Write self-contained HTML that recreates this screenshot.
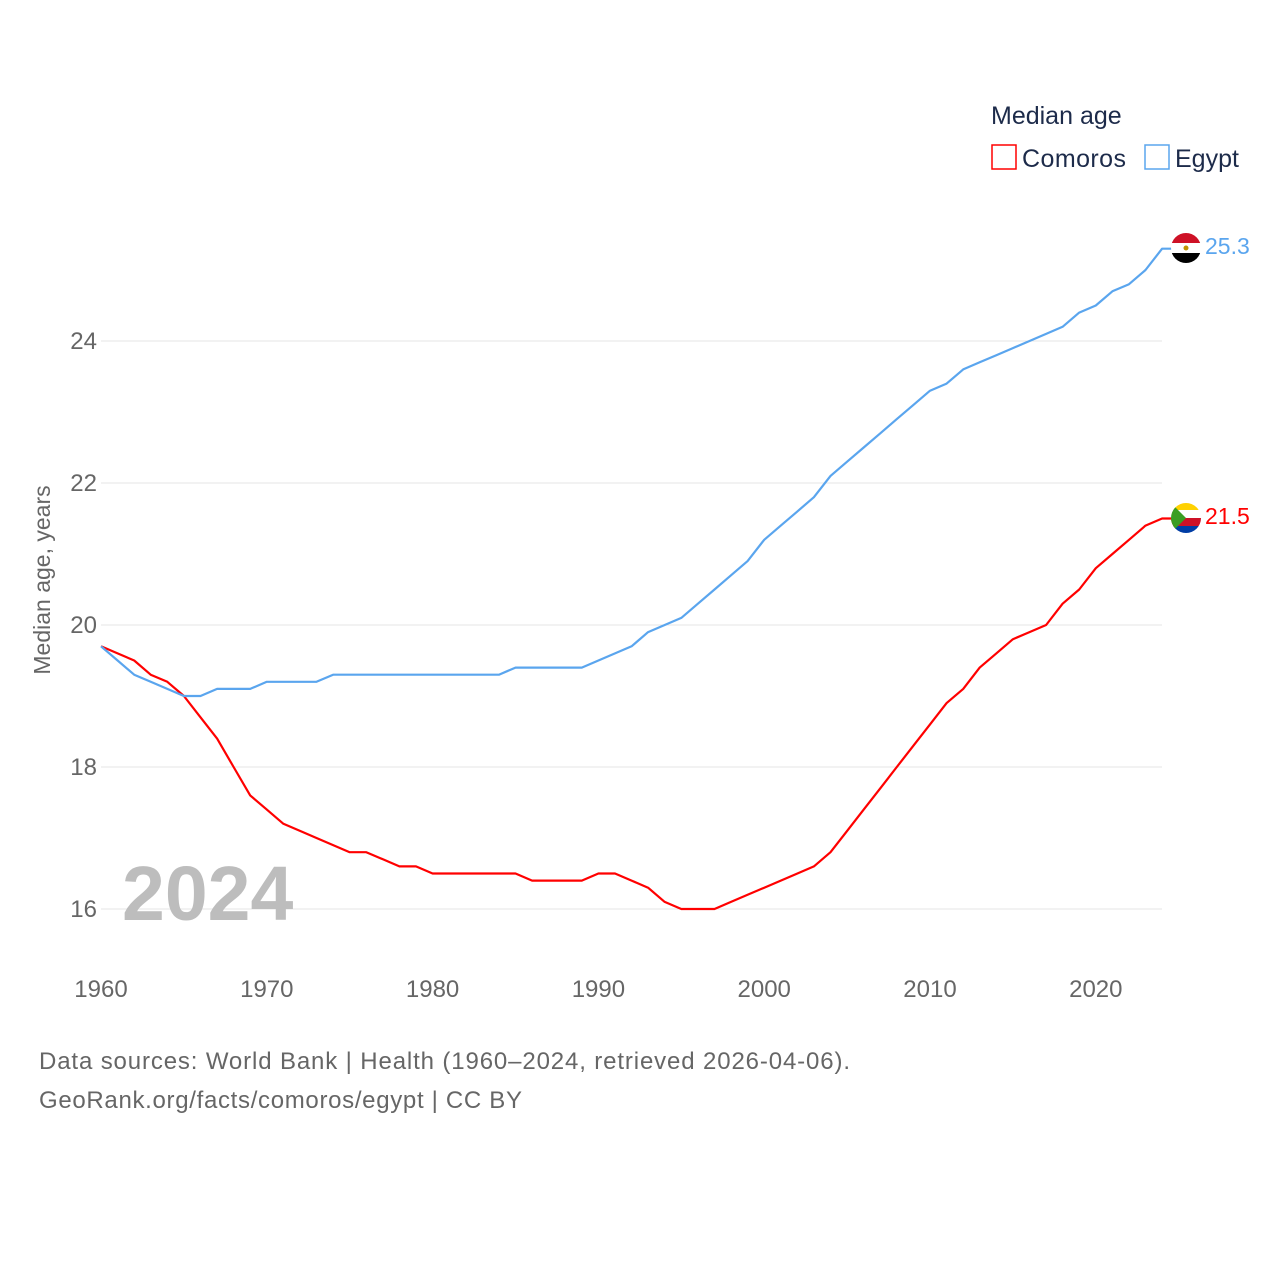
<!DOCTYPE html>
<html><head><meta charset="utf-8"><style>
body{margin:0;background:#fff;font-family:"Liberation Sans",sans-serif}
svg text{font-family:"Liberation Sans",sans-serif}
</style></head><body>
<svg id="chart" width="1280" height="1280" viewBox="0 0 1280 1280" xmlns="http://www.w3.org/2000/svg">
<rect width="1280" height="1280" fill="#fff"/>
<g id="grid"></g><g id="ticks"></g>
<text x="122" y="920" font-size="77" font-weight="bold" fill="#bdbdbd">2024</text>
<text transform="translate(50,580) rotate(-90)" text-anchor="middle" font-size="23" fill="#666">Median age, years</text>
<g id="series"></g>
<g>
<text x="991" y="124" font-size="25" fill="#1d2b4a">Median age</text>
<g><rect x="992" y="145" width="24" height="24" fill="none" stroke="#f00" stroke-width="1.5"/><text x="1022" y="167" font-size="25" fill="#1d2b4a" textLength="104">Comoros</text></g>
<g><rect x="1145" y="145" width="24" height="24" fill="none" stroke="#5aa5ee" stroke-width="1.5"/><text x="1175" y="167" font-size="25" fill="#1d2b4a">Egypt</text></g>
</g>
<g><clipPath id="ce"><circle cx="1186" cy="248" r="15"/></clipPath><g clip-path="url(#ce)"><rect x="1170" y="232" width="32" height="11" fill="#ce1126"/><rect x="1170" y="243" width="32" height="10" fill="#fff"/><rect x="1170" y="253" width="32" height="11" fill="#000"/><circle cx="1186" cy="248" r="2.5" fill="#c09300"/></g></g>
<g><clipPath id="cc"><circle cx="1186" cy="518" r="15"/></clipPath><g clip-path="url(#cc)"><rect x="1170" y="502" width="32" height="8" fill="#ffd100"/><rect x="1170" y="510" width="32" height="8" fill="#fff"/><rect x="1170" y="518" width="32" height="8" fill="#ce1126"/><rect x="1170" y="526" width="32" height="8" fill="#003da5"/><path d="M1170 502 L1186 518 L1170 534Z" fill="#3a9d23"/></g></g>
<text x="1205" y="254" font-size="23" fill="#5aa5ee">25.3</text>
<text x="1205" y="524" font-size="23" fill="#f00">21.5</text>
<text x="39" y="1069" font-size="24" fill="#666" textLength="811">Data sources: World Bank | Health (1960–2024, retrieved 2026-04-06).</text>
<text x="39" y="1108" font-size="24" fill="#666" textLength="483">GeoRank.org/facts/comoros/egypt | CC BY</text>
</svg>
<script>
const years=[];for(let y=1960;y<=2024;y++)years.push(y);
const egypt=[19.7,19.5,19.3,19.2,19.1,19.0,19.0,19.1,19.1,19.1,19.2,19.2,19.2,19.2,19.3,19.3,19.3,19.3,19.3,19.3,19.3,19.3,19.3,19.3,19.3,19.4,19.4,19.4,19.4,19.4,19.5,19.6,19.7,19.9,20.0,20.1,20.3,20.5,20.7,20.9,21.2,21.4,21.6,21.8,22.1,22.3,22.5,22.7,22.9,23.1,23.3,23.4,23.6,23.7,23.8,23.9,24.0,24.1,24.2,24.4,24.5,24.7,24.8,25.0,25.3];
const comoros=[19.7,19.6,19.5,19.3,19.2,19.0,18.7,18.4,18.0,17.6,17.4,17.2,17.1,17.0,16.9,16.8,16.8,16.7,16.6,16.6,16.5,16.5,16.5,16.5,16.5,16.5,16.4,16.4,16.4,16.4,16.5,16.5,16.4,16.3,16.1,16.0,16.0,16.0,16.1,16.2,16.3,16.4,16.5,16.6,16.8,17.1,17.4,17.7,18.0,18.3,18.6,18.9,19.1,19.4,19.6,19.8,19.9,20.0,20.3,20.5,20.8,21.0,21.2,21.4,21.5];
const yTicks=[16,18,20,22,24];
const xTicks=[1960,1970,1980,1990,2000,2010,2020];
const NS="http://www.w3.org/2000/svg";
const X=y=>101+(y-1960)*16.58, Y=v=>909-(v-16)*71;
function mk(t,a,p){const e=document.createElementNS(NS,t);for(const k in a)e.setAttribute(k,a[k]);p.appendChild(e);return e;}
const g=document.getElementById('grid'),tk=document.getElementById('ticks'),s=document.getElementById('series');
yTicks.forEach(v=>{
 const l=mk('line',{x1:101,x2:1162,y1:Y(v),y2:Y(v),stroke:'#e6e6e6','stroke-width':1},g);
 
 
 const t=mk('text',{x:97,y:Y(v)+8,'text-anchor':'end','font-size':24,fill:'#666'},tk);t.textContent=v;
 
 
});
xTicks.forEach(v=>{
 const t=mk('text',{x:X(v),y:997,'text-anchor':'middle','font-size':24,fill:'#666'},tk);t.textContent=v;
 
 
});
function line(arr,col,name){
 let d=arr.map((v,i)=>(i?'L':'M')+X(years[i]).toFixed(1)+' '+Y(v).toFixed(1)).join(' ');
 d+=' L1172 '+Y(arr[arr.length-1]).toFixed(1);
 const p=mk('path',{d:d,fill:'none',stroke:col,'stroke-width':2.2,'stroke-linejoin':'round'},s);
 
 
}
line(comoros,'#ff0000','line-comoros');
line(egypt,'#5aa5ee','line-egypt');
</script>
</body></html>
